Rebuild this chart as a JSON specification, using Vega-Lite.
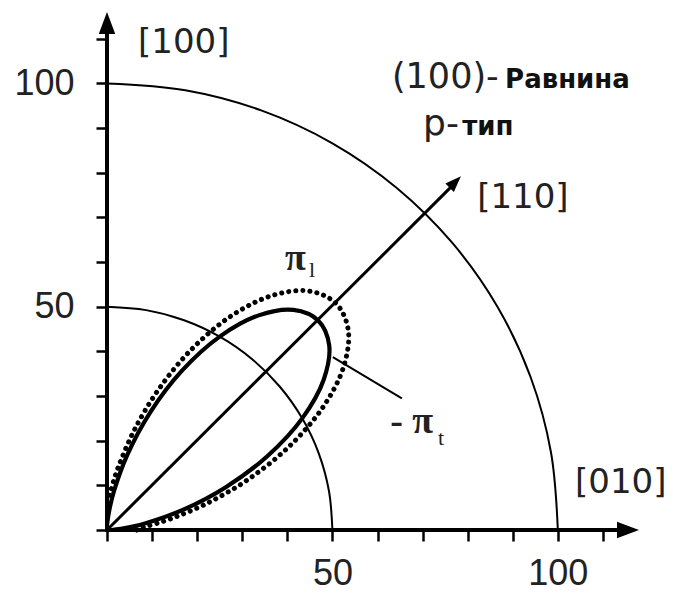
{
  "$schema": "https://vega.github.io/schema/vega-lite/v6.json",
  "width": 532,
  "height": 518,
  "autosize": {"type": "none"},
  "padding": {"left": 107, "top": 12, "right": 34, "bottom": 65},
  "background": "white",
  "config": {"view": {"stroke": null}},
  "datasets": {
    "circles": [
      {"r": 100, "t": 0, "x": 100, "y": 0},
      {"r": 100, "t": 10, "x": 98.481, "y": 17.365},
      {"r": 100, "t": 20, "x": 93.969, "y": 34.202},
      {"r": 100, "t": 30, "x": 86.603, "y": 50},
      {"r": 100, "t": 40, "x": 76.604, "y": 64.279},
      {"r": 100, "t": 50, "x": 64.279, "y": 76.604},
      {"r": 100, "t": 60, "x": 50, "y": 86.603},
      {"r": 100, "t": 70, "x": 34.202, "y": 93.969},
      {"r": 100, "t": 80, "x": 17.365, "y": 98.481},
      {"r": 100, "t": 90, "x": 0, "y": 100},
      {"r": 50, "t": 0, "x": 50, "y": 0},
      {"r": 50, "t": 10, "x": 49.240, "y": 8.682},
      {"r": 50, "t": 20, "x": 46.985, "y": 17.101},
      {"r": 50, "t": 30, "x": 43.301, "y": 25},
      {"r": 50, "t": 40, "x": 38.302, "y": 32.139},
      {"r": 50, "t": 50, "x": 32.139, "y": 38.302},
      {"r": 50, "t": 60, "x": 25, "y": 43.301},
      {"r": 50, "t": 70, "x": 17.101, "y": 46.985},
      {"r": 50, "t": 80, "x": 8.682, "y": 49.240},
      {"r": 50, "t": 90, "x": 0, "y": 50}
    ],
    "pi_l": [
      {"t": 0, "x": 6.6, "y": 0},
      {"t": 2.5, "x": 7.088, "y": 0.309},
      {"t": 5, "x": 8.533, "y": 0.747},
      {"t": 7.5, "x": 10.874, "y": 1.432},
      {"t": 10, "x": 14.011, "y": 2.471},
      {"t": 15, "x": 22.120, "y": 5.927},
      {"t": 20, "x": 31.517, "y": 11.471},
      {"t": 25, "x": 40.658, "y": 18.959},
      {"t": 30, "x": 48.065, "y": 27.75},
      {"t": 35, "x": 52.567, "y": 36.808},
      {"t": 40, "x": 53.496, "y": 44.888},
      {"t": 45, "x": 50.771, "y": 50.771},
      {"t": 50, "x": 44.888, "y": 53.496},
      {"t": 55, "x": 36.808, "y": 52.567},
      {"t": 60, "x": 27.75, "y": 48.065},
      {"t": 65, "x": 18.959, "y": 40.658},
      {"t": 70, "x": 11.471, "y": 31.517},
      {"t": 75, "x": 5.927, "y": 22.120},
      {"t": 80, "x": 2.471, "y": 14.011},
      {"t": 82.5, "x": 1.432, "y": 10.874},
      {"t": 85, "x": 0.747, "y": 8.533},
      {"t": 87.5, "x": 0.309, "y": 7.088},
      {"t": 90, "x": 0, "y": 6.6}
    ],
    "pi_t": [
      {"t": 0, "x": 1.1, "y": 0},
      {"t": 2.5, "x": 1.593, "y": 0.070},
      {"t": 5, "x": 3.054, "y": 0.267},
      {"t": 7.5, "x": 5.421, "y": 0.714},
      {"t": 10, "x": 8.595, "y": 1.515},
      {"t": 15, "x": 16.807, "y": 4.503},
      {"t": 20, "x": 26.348, "y": 9.590},
      {"t": 25, "x": 35.673, "y": 16.635},
      {"t": 30, "x": 43.302, "y": 25.0},
      {"t": 35, "x": 48.062, "y": 33.654},
      {"t": 40, "x": 49.283, "y": 41.353},
      {"t": 45, "x": 46.881, "y": 46.881},
      {"t": 50, "x": 41.353, "y": 49.283},
      {"t": 55, "x": 33.654, "y": 48.062},
      {"t": 60, "x": 25.0, "y": 43.302},
      {"t": 65, "x": 16.635, "y": 35.673},
      {"t": 70, "x": 9.590, "y": 26.348},
      {"t": 75, "x": 4.503, "y": 16.807},
      {"t": 80, "x": 1.515, "y": 8.595},
      {"t": 82.5, "x": 0.714, "y": 5.421},
      {"t": 85, "x": 0.267, "y": 3.054},
      {"t": 87.5, "x": 0.070, "y": 1.593},
      {"t": 90, "x": 0, "y": 1.1}
    ],
    "axes": [
      {"name": "x", "x": 0, "y": 0, "x2": 114, "y2": 0},
      {"name": "y", "x": 0, "y": 0, "x2": 0, "y2": 112}
    ],
    "segments": [
      {"name": "dir110", "x": 0, "y": 0, "x2": 77.0, "y2": 77.5},
      {"name": "leader", "x": 50.1, "y": 38.7, "x2": 65.4, "y2": 29.5}
    ],
    "heads": [
      {"dir": "x", "x": 118, "y": 0},
      {"dir": "y", "x": 0, "y": 116},
      {"dir": "d", "x": 78.5, "y": 79.2}
    ],
    "labels": [
      {"kind": "dir", "text": "[100]", "x": 6.88, "y": 106.8},
      {"kind": "dir", "text": "[110]", "x": 82.1, "y": 72.1},
      {"kind": "dir", "text": "[010]", "x": 103.8, "y": 8.3},
      {"kind": "plane", "text": "(100)-", "x": 63.2, "y": 99.0},
      {"kind": "bold", "text": "Равнина", "x": 88.3, "y": 99.0},
      {"kind": "ptype", "text": "p-", "x": 70.1, "y": 88.4},
      {"kind": "bold", "text": "тип", "x": 78.8, "y": 88.4},
      {"kind": "pi", "text": "π", "x": 39.5, "y": 58.2},
      {"kind": "pi", "text": "- π", "x": 62.8, "y": 21.7},
      {"kind": "sub", "text": "l", "x": 44.8, "y": 56.7},
      {"kind": "sub", "text": "t", "x": 73.4, "y": 19.0}
    ]
  },
  "encoding": {
    "x": {
      "field": "x",
      "type": "quantitative",
      "scale": {"domain": [0, 118], "nice": false, "zero": false},
      "axis": {
        "title": null,
        "values": [0, 10, 20, 30, 40, 50, 60, 70, 80, 90, 100, 110],
        "domain": false,
        "grid": false,
        "tickSize": 11,
        "tickWidth": 2.5,
        "tickColor": "black",
        "labelExpr": "datum.value == 50 || datum.value == 100 ? datum.label : ''",
        "labelFont": "Liberation Sans",
        "labelFontSize": 36,
        "labelColor": "#222",
        "labelPadding": 15,
        "labelFlush": false,
        "labelOverlap": false
      }
    },
    "y": {
      "field": "y",
      "type": "quantitative",
      "scale": {"domain": [0, 116], "nice": false, "zero": false},
      "axis": {
        "title": null,
        "values": [0, 10, 20, 30, 40, 50, 60, 70, 80, 90, 100, 110],
        "domain": false,
        "grid": false,
        "tickSize": 11,
        "tickWidth": 2.5,
        "tickColor": "black",
        "labelExpr": "datum.value == 50 || datum.value == 100 ? datum.label : ''",
        "labelFont": "Liberation Sans",
        "labelFontSize": 36,
        "labelColor": "#222",
        "labelPadding": 22,
        "labelFlush": false,
        "labelOverlap": false
      }
    }
  },
  "layer": [
    {
      "data": {"name": "circles"},
      "mark": {"type": "line", "interpolate": "catmull-rom", "color": "black", "strokeWidth": 2},
      "encoding": {
        "detail": {"field": "r", "type": "nominal"},
        "order": {"field": "t", "type": "quantitative"}
      }
    },
    {
      "data": {"name": "pi_l"},
      "mark": {"type": "line", "interpolate": "catmull-rom", "color": "black", "strokeWidth": 5, "strokeDash": [0.1, 7], "strokeCap": "round"},
      "encoding": {"order": {"field": "t", "type": "quantitative"}}
    },
    {
      "data": {"name": "pi_t"},
      "mark": {"type": "line", "interpolate": "catmull-rom", "color": "black", "strokeWidth": 4.2},
      "encoding": {"order": {"field": "t", "type": "quantitative"}}
    },
    {
      "data": {"name": "axes"},
      "mark": {"type": "rule", "color": "black", "strokeWidth": 4, "strokeCap": "square"},
      "encoding": {"x2": {"field": "x2"}, "y2": {"field": "y2"}}
    },
    {
      "data": {"name": "segments"},
      "transform": [{"filter": "datum.name == 'dir110'"}],
      "mark": {"type": "rule", "color": "black", "strokeWidth": 3},
      "encoding": {"x2": {"field": "x2"}, "y2": {"field": "y2"}}
    },
    {
      "data": {"name": "segments"},
      "transform": [{"filter": "datum.name == 'leader'"}],
      "mark": {"type": "rule", "color": "black", "strokeWidth": 2},
      "encoding": {"x2": {"field": "x2"}, "y2": {"field": "y2"}}
    },
    {
      "data": {"name": "heads"},
      "transform": [{"filter": "datum.dir == 'x'"}],
      "mark": {"type": "point", "shape": "M0,0L-2,-0.75L-2,0.75Z", "size": 484, "filled": true, "color": "black", "opacity": 1, "angle": 0}
    },
    {
      "data": {"name": "heads"},
      "transform": [{"filter": "datum.dir == 'y'"}],
      "mark": {"type": "point", "shape": "M0,0L-2,-0.75L-2,0.75Z", "size": 484, "filled": true, "color": "black", "opacity": 1, "angle": 270}
    },
    {
      "data": {"name": "heads"},
      "transform": [{"filter": "datum.dir == 'd'"}],
      "mark": {"type": "point", "shape": "M0,0L-2,-0.75L-2,0.75Z", "size": 256, "filled": true, "color": "black", "opacity": 1, "angle": 315}
    },
    {
      "data": {"name": "labels"},
      "transform": [{"filter": "datum.kind == 'dir'"}],
      "mark": {"type": "text", "align": "left", "baseline": "alphabetic", "font": "DejaVu Sans", "fontSize": 34, "color": "#222"},
      "encoding": {"text": {"field": "text"}}
    },
    {
      "data": {"name": "labels"},
      "transform": [{"filter": "datum.kind == 'plane'"}],
      "mark": {"type": "text", "align": "left", "baseline": "alphabetic", "font": "DejaVu Sans", "fontSize": 35, "color": "#222"},
      "encoding": {"text": {"field": "text"}}
    },
    {
      "data": {"name": "labels"},
      "transform": [{"filter": "datum.kind == 'ptype'"}],
      "mark": {"type": "text", "align": "left", "baseline": "alphabetic", "font": "DejaVu Sans", "fontSize": 36, "color": "#222"},
      "encoding": {"text": {"field": "text"}}
    },
    {
      "data": {"name": "labels"},
      "transform": [{"filter": "datum.kind == 'bold'"}],
      "mark": {"type": "text", "align": "left", "baseline": "alphabetic", "font": "DejaVu Sans", "fontWeight": "bold", "fontSize": 26, "color": "#111"},
      "encoding": {"text": {"field": "text"}}
    },
    {
      "data": {"name": "labels"},
      "transform": [{"filter": "datum.kind == 'pi'"}],
      "mark": {"type": "text", "align": "left", "baseline": "alphabetic", "font": "Liberation Serif", "fontWeight": "bold", "fontSize": 38, "color": "#222"},
      "encoding": {"text": {"field": "text"}}
    },
    {
      "data": {"name": "labels"},
      "transform": [{"filter": "datum.kind == 'sub'"}],
      "mark": {"type": "text", "align": "left", "baseline": "alphabetic", "font": "Liberation Serif", "fontSize": 22, "color": "#222"},
      "encoding": {"text": {"field": "text"}}
    }
  ]
}
